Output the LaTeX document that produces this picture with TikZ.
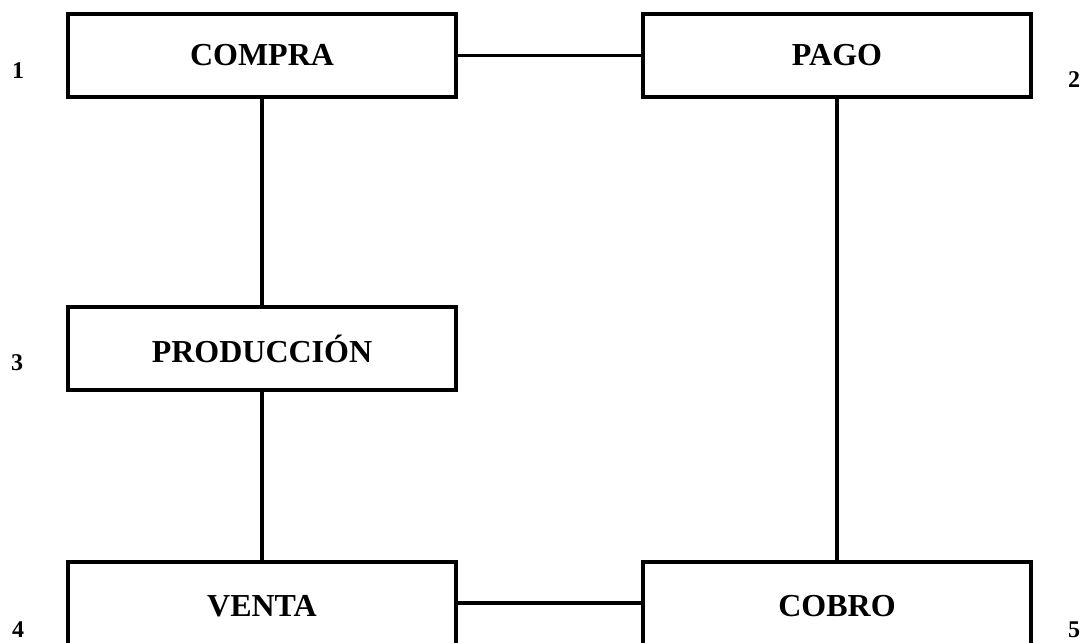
\documentclass[tikz,border=0pt]{standalone}
\usepackage{fontspec}
\setmainfont{Liberation Serif}
\begin{document}
\begin{tikzpicture}[x=0.5pt,y=-0.5pt,
  box/.style={draw=black,line width=1.9pt,rectangle,inner sep=0pt,
    minimum width=194pt,minimum height=41.5pt,
    font=\fontsize{16}{19}\selectfont\bfseries},
  lowbox/.style={box,minimum height=44pt},
  num/.style={inner sep=0pt,font=\fontsize{12}{14}\selectfont\bfseries},
  link/.style={draw=black,line width=1.9pt}]
\useasboundingbox (0,0) rectangle (1083,643);
\clip (0,0) rectangle (1083,643);
\node[box] (compra) at (262,55.5) {COMPRA};
\node[box] (pago) at (837,55.5) {PAGO};
\node[box] (prod) at (262,348.5) {PRODUCCIÓN};
\node[lowbox] (venta) at (262,606) {VENTA};
\node[lowbox] (cobro) at (837,606) {COBRO};
\node[num] (n1) at (18,71) {1};
\node[num] (n2) at (1074,80) {2};
\node[num] (n3) at (17,363) {3};
\node[num] (n4) at (18,630) {4};
\node[num] (n5) at (1074,630) {5};
\path[link] (compra) -- (pago);
\path[link] (compra) -- (prod);
\path[link] (prod) -- (venta);
\path[link] (pago) -- (cobro);
\path[link] (venta.east |- 0,603) -- (cobro.west |- 0,603);
\end{tikzpicture}
\end{document}
